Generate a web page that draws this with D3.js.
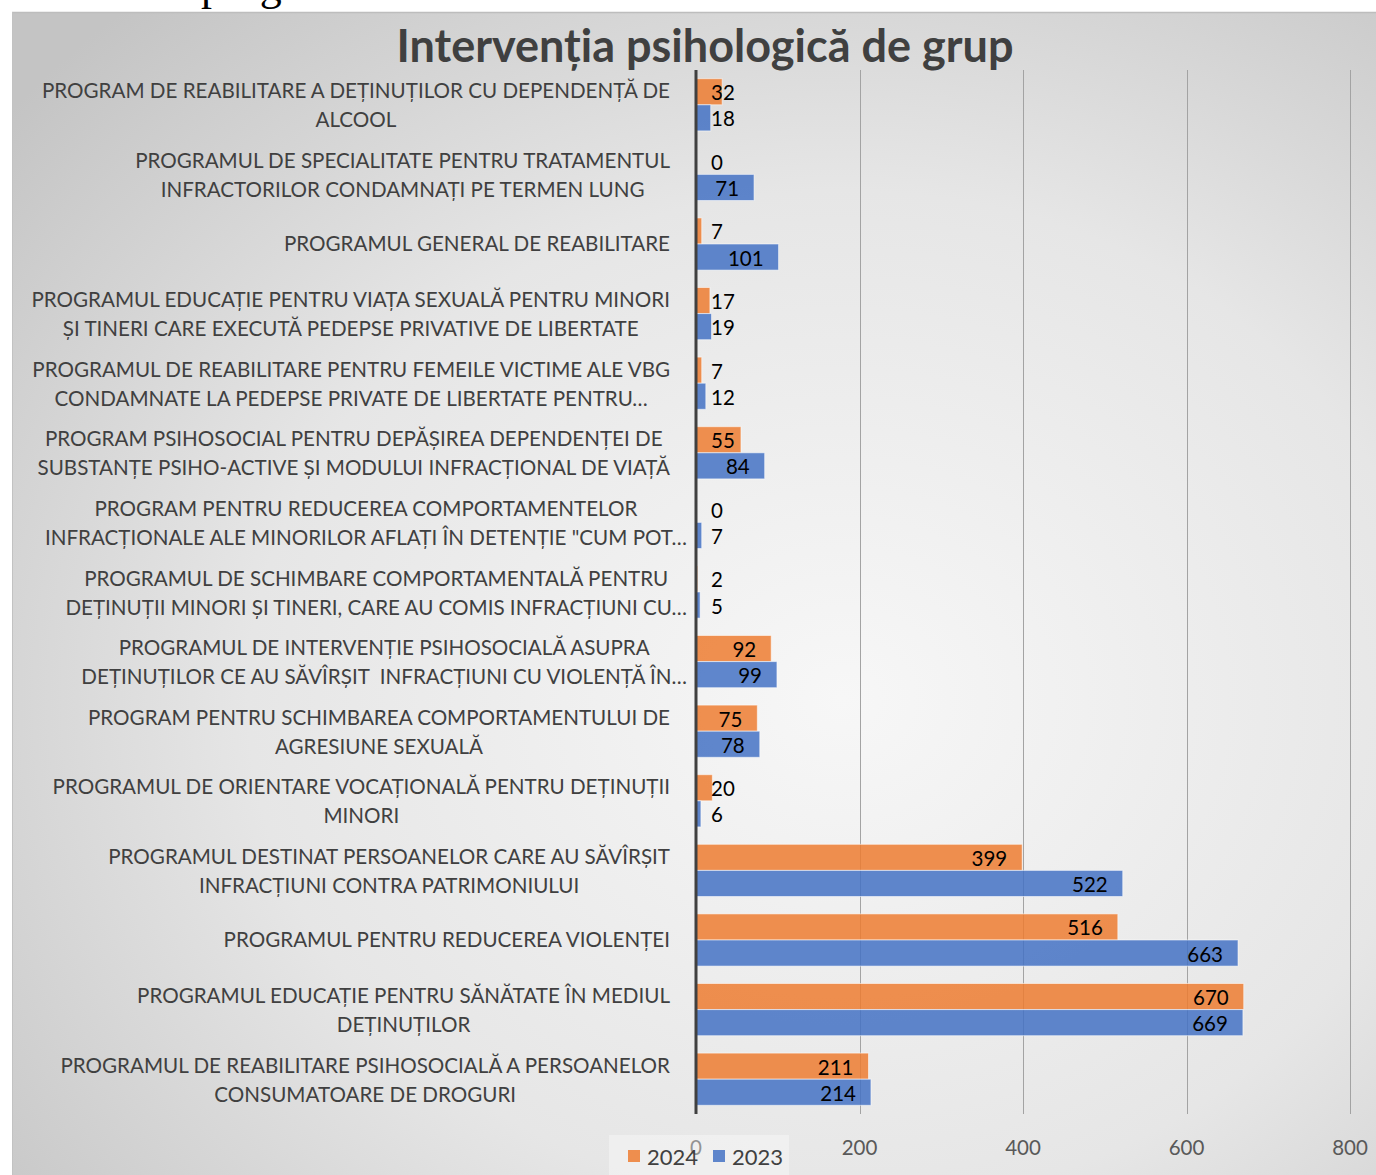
<!doctype html>
<html>
  <head>
    <script src="https://cdn.jsdelivr.net/npm/d3@7/dist/d3.min.js"></script>
    <style>
      body, html {
        margin: 0;
        background: #fff;
      }
      svg {
        display: block;
      }
      text {
        font-family: Lato, "Open Sans", sans-serif;
      }
      .cat-label {
        fill: #404040;
        font-size: 20.6px;
        white-space: pre;
      }
      .val-label {
        fill: #000;
        font-size: 20.5px;
      }
      .tick-label {
        fill: #595959;
        font-size: 20.5px;
      }
      line.grid {
        stroke: #a3a3a3;
        stroke-width: 1px;
      }
    </style>
  </head>
  <body>
    <svg width="1376" height="1175"></svg>
    <script>

      // category labels, already broken into the lines the chart shows
      var categories = [
        ["PROGRAM DE REABILITARE A DEȚINUȚILOR CU DEPENDENȚĂ DE", "ALCOOL"],
        ["PROGRAMUL DE SPECIALITATE PENTRU TRATAMENTUL", "INFRACTORILOR CONDAMNAȚI PE TERMEN LUNG"],
        ["PROGRAMUL GENERAL DE REABILITARE"],
        ["PROGRAMUL EDUCAȚIE PENTRU VIAȚA SEXUALĂ PENTRU MINORI", "ȘI TINERI CARE EXECUTĂ PEDEPSE PRIVATIVE DE LIBERTATE"],
        ["PROGRAMUL DE REABILITARE PENTRU FEMEILE VICTIME ALE VBG", "CONDAMNATE LA PEDEPSE PRIVATE DE LIBERTATE PENTRU…"],
        ["PROGRAM PSIHOSOCIAL PENTRU DEPĂȘIREA DEPENDENȚEI DE", "SUBSTANȚE PSIHO-ACTIVE ȘI MODULUI INFRACȚIONAL DE VIAȚĂ"],
        ["PROGRAM PENTRU REDUCEREA COMPORTAMENTELOR", "INFRACȚIONALE ALE MINORILOR AFLAȚI ÎN DETENȚIE \"CUM POT…"],
        ["PROGRAMUL DE SCHIMBARE COMPORTAMENTALĂ PENTRU", "DEȚINUȚII MINORI ȘI TINERI, CARE AU COMIS INFRACȚIUNI CU…"],
        ["PROGRAMUL DE INTERVENȚIE PSIHOSOCIALĂ ASUPRA", "DEȚINUȚILOR CE AU SĂVÎRȘIT  INFRACȚIUNI CU VIOLENȚĂ ÎN…"],
        ["PROGRAM PENTRU SCHIMBAREA COMPORTAMENTULUI DE", "AGRESIUNE SEXUALĂ"],
        ["PROGRAMUL DE ORIENTARE VOCAȚIONALĂ PENTRU DEȚINUȚII", "MINORI"],
        ["PROGRAMUL DESTINAT PERSOANELOR CARE AU SĂVÎRȘIT", "INFRACȚIUNI CONTRA PATRIMONIULUI"],
        ["PROGRAMUL PENTRU REDUCEREA VIOLENȚEI"],
        ["PROGRAMUL EDUCAȚIE PENTRU SĂNĂTATE ÎN MEDIUL", "DEȚINUȚILOR"],
        ["PROGRAMUL DE REABILITARE PSIHOSOCIALĂ A PERSOANELOR", "CONSUMATOARE DE DROGURI"]
      ];

      var values2024 = [32, 0, 7, 17, 7, 55, 0, 2, 92, 75, 20, 399, 516, 670, 211];
      var values2023 = [18, 71, 101, 19, 12, 84, 7, 5, 99, 78, 6, 522, 663, 669, 214];

      var seriesNames = ["2024", "2023"];
      var seriesColors = ["#ED7D31", "#4472C4"];
      var xTicks = [0, 200, 400, 600, 800];

      var title = "Intervenția psihologică de grup";

      var svg = d3.select("svg");
      var W = 1376, H = 1175;

      // background of the chart area
      var defs = svg.append("defs");
      var grad = defs.append("radialGradient")
        .attr("id", "bg")
        .attr("cx", 0.6).attr("cy", 0.58).attr("r", 0.78);
      grad.append("stop").attr("offset", 0).attr("stop-color", "#f7f7f7");
      grad.append("stop").attr("offset", 0.55).attr("stop-color", "#e6e6e6");
      grad.append("stop").attr("offset", 1).attr("stop-color", "#c4c4c4");

      // clipped line of document text above the chart (only descenders show)
      svg.append("text")
        .attr("x", 201).attr("y", -0.5)
        .style("font-family", "'Liberation Serif', serif")
        .style("font-size", "44px")
        .attr("fill", "#000")
        .text("program");

      svg.append("rect")
        .attr("x", 12).attr("y", 12)
        .attr("width", W - 12 + 20).attr("height", H - 12 + 20)
        .attr("fill", "url(#bg)");
      svg.append("line")
        .attr("x1", 12).attr("x2", W).attr("y1", 12.5).attr("y2", 12.5)
        .attr("stroke", "#bdbdbd").attr("stroke-width", 1.5);
      svg.append("line")
        .attr("x1", 12.5).attr("x2", 12.5).attr("y1", 12).attr("y2", H)
        .attr("stroke", "#c2c2c2").attr("stroke-width", 1);

      var plot = {left: 696, right: 1350, top: 70, bottom: 1114};

      var x = d3.scaleLinear()
        .domain([0, 800])
        .range([plot.left, plot.right]);

      var y = d3.scaleBand()
        .domain(d3.range(categories.length))
        .range([plot.top, plot.bottom])
        .paddingInner(0.25)
        .paddingOuter(0.125);

      var ySub = d3.scaleBand()
        .domain(seriesNames)
        .range([0, y.bandwidth()]);

      // grid lines
      svg.append("g")
        .selectAll("line")
        .data(xTicks.slice(1))
        .join("line")
        .attr("class", "grid")
        .attr("x1", d => Math.round(x(d)) + 0.5)
        .attr("x2", d => Math.round(x(d)) + 0.5)
        .attr("y1", plot.top)
        .attr("y2", plot.bottom);

      // tick labels
      svg.append("g")
        .selectAll("text")
        .data(xTicks)
        .join("text")
        .attr("class", "tick-label")
        .attr("x", d => x(d))
        .attr("y", 1155)
        .attr("text-anchor", "middle")
        .text(d => d);

      // bars
      var rows = categories.map((c, i) => ({
        i: i,
        vals: [
          {s: 0, v: values2024[i]},
          {s: 1, v: values2023[i]}
        ]
      }));

      var groups = svg.append("g")
        .selectAll("g")
        .data(rows)
        .join("g")
        .attr("transform", d => "translate(0," + y(d.i) + ")");

      groups.selectAll("rect")
        .data(d => d.vals)
        .join("rect")
        .attr("x", x(0))
        .attr("y", d => ySub(seriesNames[d.s]))
        .attr("width", d => x(d.v) - x(0))
        .attr("height", ySub.bandwidth())
        .attr("fill", d => seriesColors[d.s])
        .attr("fill-opacity", 0.85)
        .attr("stroke", "rgba(255,255,255,0.55)")
        .attr("stroke-width", 1);

      // value labels, inside end, never left of the axis pad
      groups.selectAll("text")
        .data(d => d.vals)
        .join("text")
        .attr("class", "val-label")
        .attr("y", d => ySub(seriesNames[d.s]) + ySub.bandwidth() / 2 + 8.5)
        .text(d => d.v)
        .each(function(d) {
          var w = this.getComputedTextLength();
          var xs = Math.max(x(0) + 15, x(d.v) - 15 - w);
          d3.select(this).attr("x", xs);
        });

      // axis line
      svg.append("line")
        .attr("x1", x(0)).attr("x2", x(0))
        .attr("y1", plot.top).attr("y2", plot.bottom)
        .attr("stroke", "#404040")
        .attr("stroke-width", 3);

      // category labels: block right aligned, lines centred in block,
      // a trailing ellipsis is allowed to hang past the edge
      var labelRight = 670;
      var cats = svg.append("g")
        .selectAll("g")
        .data(categories)
        .join("g");

      cats.each(function(lines, i) {
        var g = d3.select(this);
        var cy = y(i) + y.bandwidth() / 2;
        var texts = g.selectAll("text")
          .data(lines)
          .join("text")
          .attr("class", "cat-label")
          .attr("text-anchor", "middle")
          .attr("y", (d, k) => lines.length === 1 ? cy + 7 : cy - 6.5 + k * 29)
          .text(d => d);
        var cx = d3.min(texts.nodes(), n => {
          var edge = labelRight + (n.textContent.endsWith("…") ? 17 : 0);
          return edge - n.getComputedTextLength() / 2;
        });
        texts.attr("x", cx);
      });

      // title
      svg.append("text")
        .attr("x", 705)
        .attr("y", 62)
        .attr("text-anchor", "middle")
        .style("font-size", "45px")
        .style("font-weight", "bold")
        .attr("fill", "#404040")
        .text(title);

      // legend
      var legend = svg.append("g");
      legend.append("rect")
        .attr("x", 609).attr("y", 1135)
        .attr("width", 180).attr("height", 50)
        .attr("fill", "rgba(255,255,255,0.35)");

      var legendX = [628, 713];
      seriesNames.forEach((s, k) => {
        legend.append("rect")
          .attr("x", legendX[k]).attr("y", 1150)
          .attr("width", 12).attr("height", 12)
          .attr("fill", seriesColors[k])
          .attr("fill-opacity", 0.85);
        legend.append("text")
          .attr("x", legendX[k] + 19)
          .attr("y", 1165)
          .style("font-size", "22px")
          .attr("fill", "#404040")
          .text(s);
      });
    </script>
  </body>
</html>
